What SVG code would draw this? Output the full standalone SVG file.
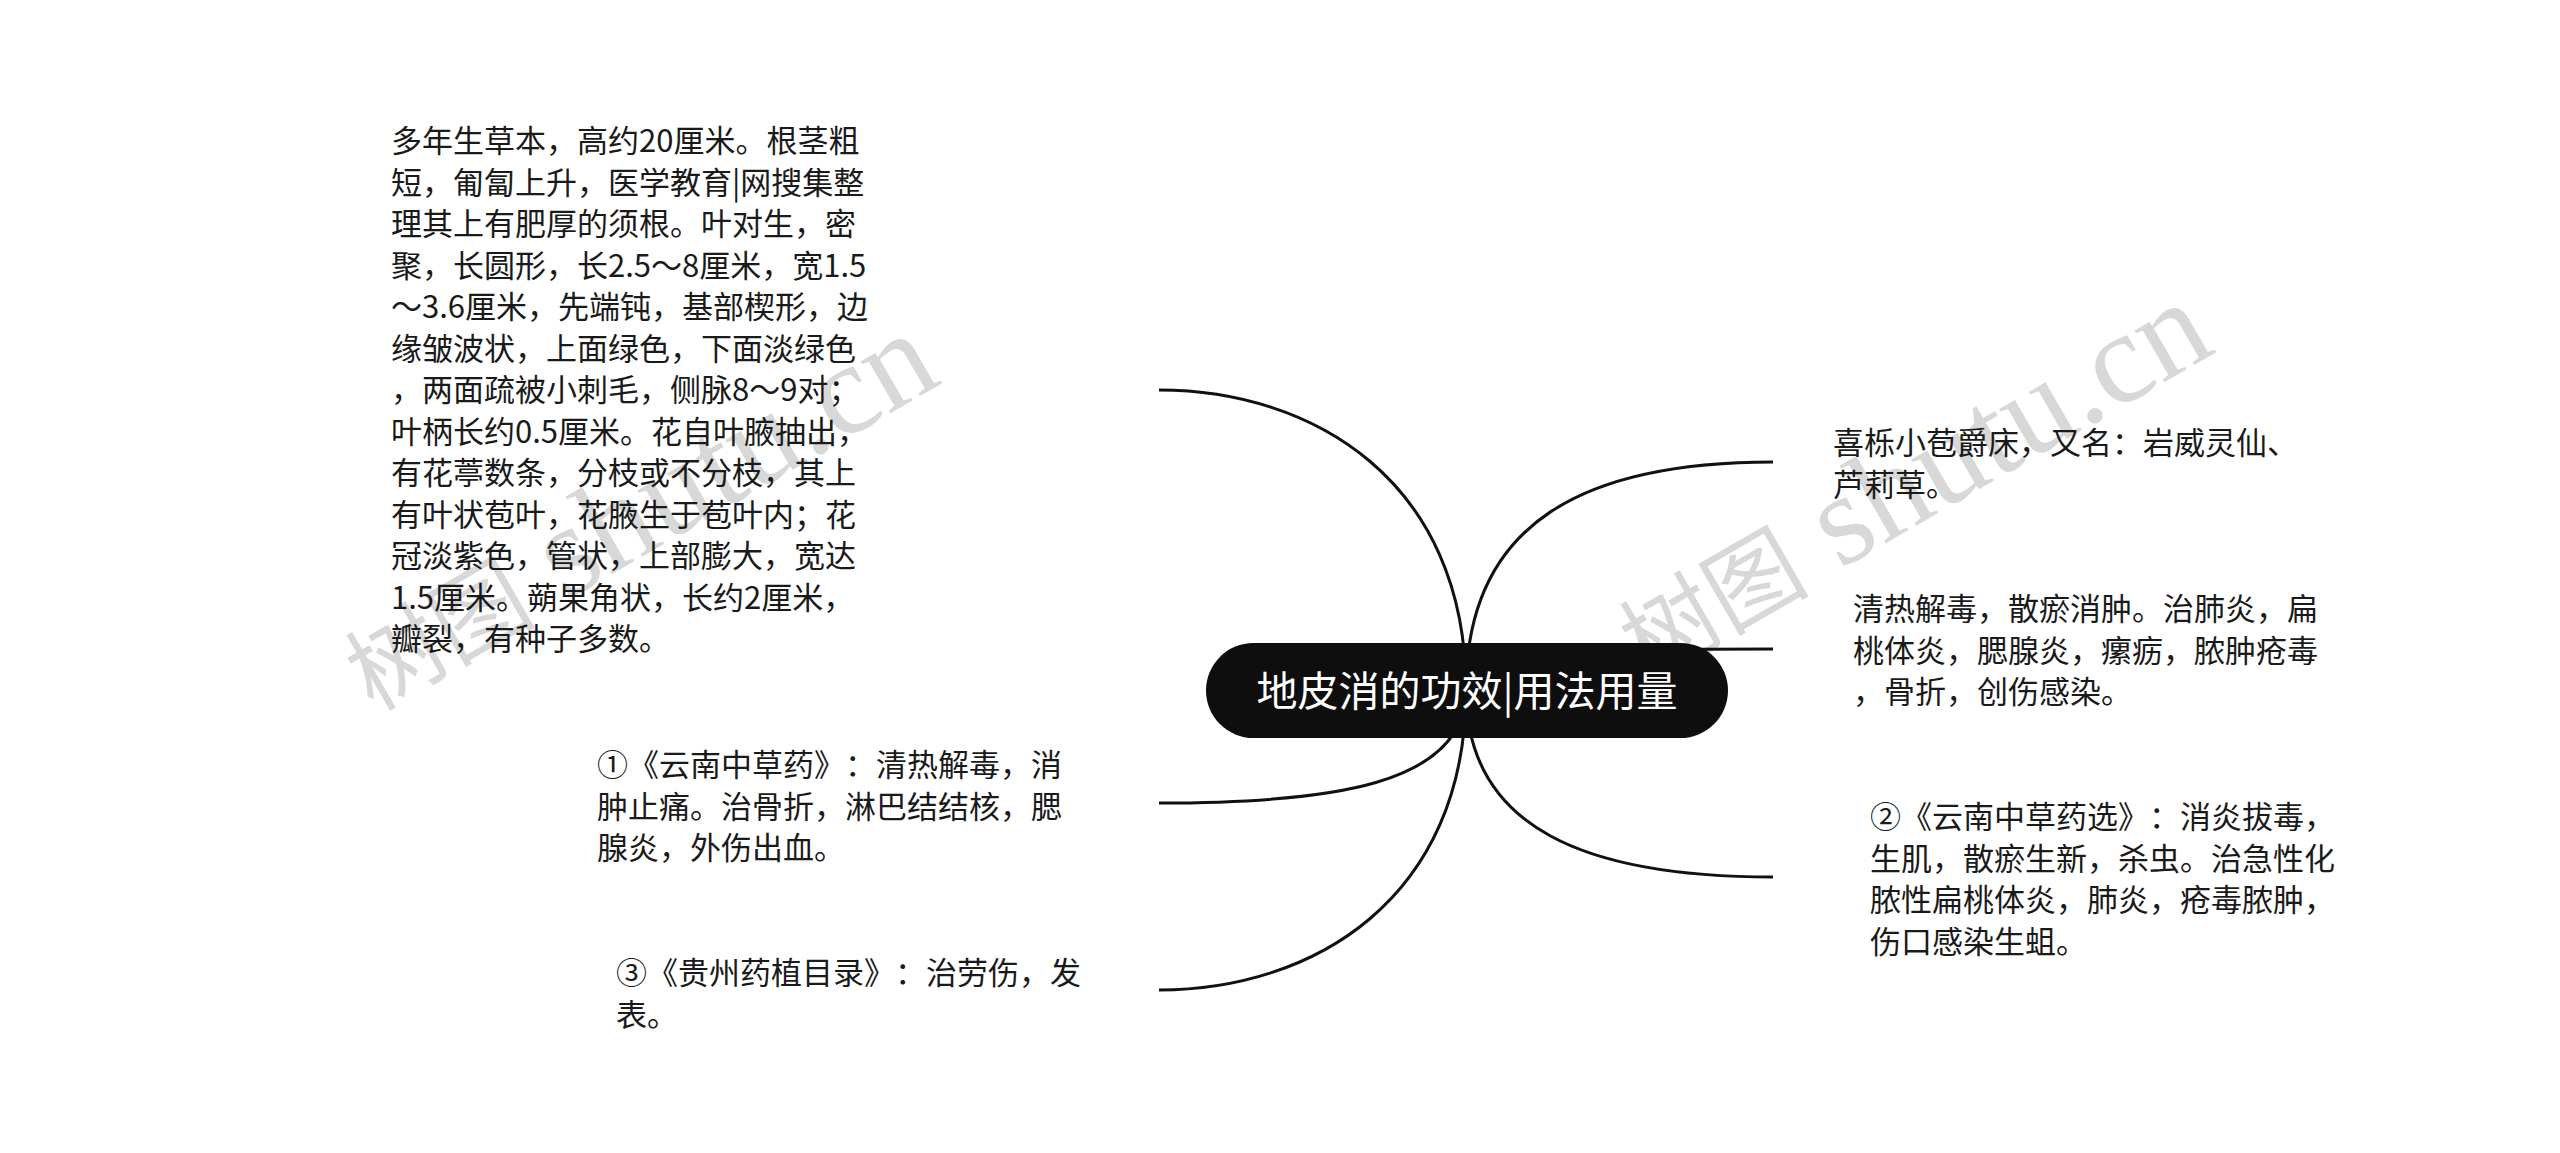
<svg xmlns="http://www.w3.org/2000/svg" width="2560" height="1153" viewBox="0 0 2560 1153">
<style>
text{text-spacing-trim:space-all}
.t{font-family:"Noto Sans CJK SC","Liberation Sans",sans-serif;font-size:31px;fill:#1a1a1a}
.root{font-family:"Noto Sans CJK SC","Liberation Sans",sans-serif;font-size:41px;fill:#ffffff}
.edge{fill:none;stroke:#111111;stroke-width:3}
.wm{font-family:"Liberation Serif","Noto Sans CJK SC",serif;fill:#d8d8d8}
</style>
<rect x="0" y="0" width="2560" height="1153" fill="#ffffff"/>
<g id="watermarks">
<text class="wm" transform="translate(373,712) rotate(-30)"><tspan font-size="95">树图</tspan><tspan font-size="130"> shutu.cn</tspan></text>
<text class="wm" transform="translate(1647,681) rotate(-30)"><tspan font-size="95">树图</tspan><tspan font-size="130"> shutu.cn</tspan></text>
</g>
<g id="connectors">
<path class="edge" d="M1159 390 C1312 390 1466 480 1466 690"/>
<path class="edge" d="M1159 803 C1328 803 1466 786 1466 690"/>
<path class="edge" d="M1159 990 C1312 990 1466 900 1466 690"/>
<path class="edge" d="M1773 462 C1589 462 1466 519 1466 690"/>
<path class="edge" d="M1466 690 C1520 649 1600 649 1773 649"/>
<path class="edge" d="M1773 877 C1589 877 1466 830 1466 690"/>
</g>
<g id="root">
<rect x="1206" y="643" width="522" height="95" rx="47.5" ry="47.5" fill="#0e0e0e"/>
<text class="root" x="1467" y="706" text-anchor="middle">地皮消的功效|用法用量</text>
</g>
<g id="node-description">
<text class="t" x="391">
<tspan x="391" y="152">多年生草本，高约20厘米。根茎粗</tspan>
<tspan x="391" y="193.5">短，匍匐上升，医学教育|网搜集整</tspan>
<tspan x="391" y="235">理其上有肥厚的须根。叶对生，密</tspan>
<tspan x="391" y="276.5">聚，长圆形，长2.5～8厘米，宽1.5</tspan>
<tspan x="391" y="318">～3.6厘米，先端钝，基部楔形，边</tspan>
<tspan x="391" y="359.5">缘皱波状，上面绿色，下面淡绿色</tspan>
<tspan x="391" y="401">，两面疏被小刺毛，侧脉8～9对；</tspan>
<tspan x="391" y="442.5">叶柄长约0.5厘米。花自叶腋抽出，</tspan>
<tspan x="391" y="484">有花葶数条，分枝或不分枝，其上</tspan>
<tspan x="391" y="525.5">有叶状苞叶，花腋生于苞叶内；花</tspan>
<tspan x="391" y="567">冠淡紫色，管状，上部膨大，宽达</tspan>
<tspan x="391" y="608.5">1.5厘米。蒴果角状，长约2厘米，</tspan>
<tspan x="391" y="650">瓣裂，有种子多数。</tspan>
</text>
</g>
<g id="node-yunnan">
<text class="t">
<tspan x="597" y="776">①《云南中草药》：清热解毒，消</tspan>
<tspan x="597" y="817.5">肿止痛。治骨折，淋巴结结核，腮</tspan>
<tspan x="597" y="859">腺炎，外伤出血。</tspan>
</text>
</g>
<g id="node-guizhou">
<text class="t">
<tspan x="616" y="984">③《贵州药植目录》：治劳伤，发</tspan>
<tspan x="616" y="1025.5">表。</tspan>
</text>
</g>
<g id="node-alias">
<text class="t">
<tspan x="1833" y="454">喜栎小苞爵床，又名：岩威灵仙、</tspan>
<tspan x="1833" y="495.5">芦莉草。</tspan>
</text>
</g>
<g id="node-effect">
<text class="t">
<tspan x="1853" y="620">清热解毒，散瘀消肿。治肺炎，扁</tspan>
<tspan x="1853" y="661.5">桃体炎，腮腺炎，瘰疬，脓肿疮毒</tspan>
<tspan x="1853" y="703">，骨折，创伤感染。</tspan>
</text>
</g>
<g id="node-yunnan-select">
<text class="t">
<tspan x="1870" y="828">②《云南中草药选》：消炎拔毒，</tspan>
<tspan x="1870" y="869.5">生肌，散瘀生新，杀虫。治急性化</tspan>
<tspan x="1870" y="911">脓性扁桃体炎，肺炎，疮毒脓肿，</tspan>
<tspan x="1870" y="952.5">伤口感染生蛆。</tspan>
</text>
</g>
</svg>
